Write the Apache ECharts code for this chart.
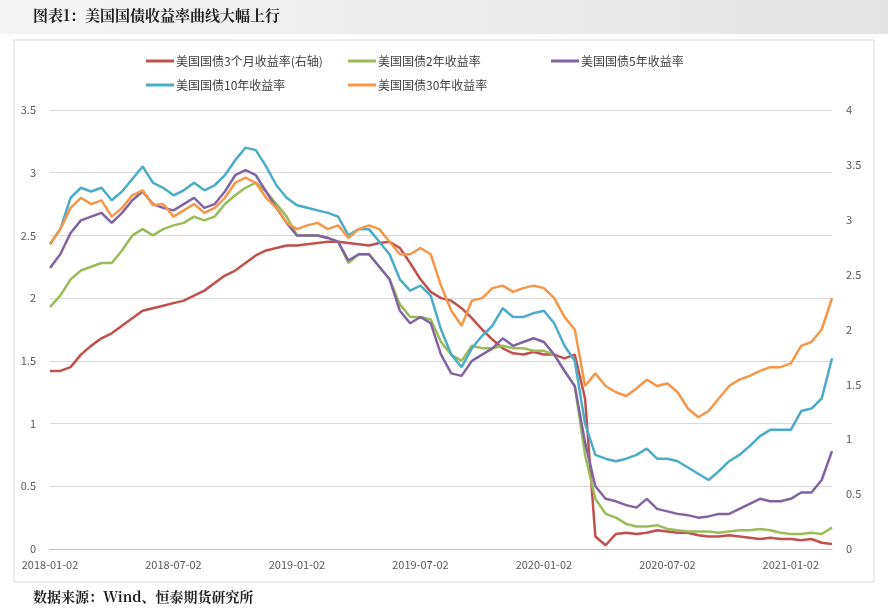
<!DOCTYPE html>
<html><head><meta charset="utf-8">
<script src="https://cdn.jsdelivr.net/npm/echarts@6/dist/echarts.min.js"></script>
<style>html,body{margin:0;padding:0;background:#fff}#c{width:888px;height:614px}</style>
</head><body><div id="c"></div>
<script>
const dates = ["2018-01-02","2018-01-16","2018-02-02","2018-02-16","2018-03-02","2018-03-16","2018-04-02","2018-04-16","2018-05-02","2018-05-16","2018-06-02","2018-06-16",
"2018-07-02","2018-07-16","2018-08-02","2018-08-16","2018-09-02","2018-09-16","2018-10-02","2018-10-16","2018-11-02","2018-11-16","2018-12-02","2018-12-16",
"2019-01-02","2019-01-16","2019-02-02","2019-02-16","2019-03-02","2019-03-16","2019-04-02","2019-04-16","2019-05-02","2019-05-16","2019-06-02","2019-06-16",
"2019-07-02","2019-07-16","2019-08-02","2019-08-16","2019-09-02","2019-09-16","2019-10-02","2019-10-16","2019-11-02","2019-11-16","2019-12-02","2019-12-16",
"2020-01-02","2020-01-16","2020-02-02","2020-02-16","2020-03-02","2020-03-16","2020-04-02","2020-04-16","2020-05-02","2020-05-16","2020-06-02","2020-06-16",
"2020-07-02","2020-07-16","2020-08-02","2020-08-16","2020-09-02","2020-09-16","2020-10-02","2020-10-16","2020-11-02","2020-11-16","2020-12-02","2020-12-16",
"2021-01-02","2021-01-16","2021-02-02","2021-02-16","2021-03-02"];
const tickLabels = ["2018-01-02","2018-07-02","2019-01-02","2019-07-02","2020-01-02","2020-07-02","2021-01-02"];
const names = ["美国国债3个月收益率(右轴)","美国国债2年收益率","美国国债5年收益率","美国国债10年收益率","美国国债30年收益率"];
const colors = ["#C0504D","#9BBB59","#8064A2","#4BACC6","#F79646"];
const y3m = [1.42,1.42,1.45,1.55,1.62,1.68,1.72,1.78,1.84,1.90,1.92,1.94,1.96,
1.98,2.02,2.06,2.12,2.18,2.22,2.28,2.34,2.38,2.40,2.42,2.42,
2.43,2.44,2.45,2.45,2.44,2.43,2.42,2.44,2.45,2.40,2.28,2.15,
2.05,2.00,1.98,1.92,1.84,1.75,1.67,1.60,1.56,1.55,1.57,1.55,
1.55,1.52,1.55,1.20,0.10,0.03,0.12,0.13,0.12,0.13,0.15,0.14,
0.13,0.13,0.11,0.10,0.10,0.11,0.10,0.09,0.08,0.09,0.08,0.08,0.07,0.08,0.05,0.04];
const y2 = [1.93,2.02,2.15,2.22,2.25,2.28,2.28,2.38,2.50,2.55,2.50,2.55,2.58,
2.60,2.65,2.62,2.65,2.75,2.82,2.88,2.92,2.85,2.75,2.65,2.50,
2.50,2.50,2.48,2.45,2.28,2.35,2.35,2.25,2.15,1.95,1.85,1.85,
1.83,1.65,1.55,1.50,1.62,1.60,1.60,1.62,1.60,1.60,1.58,1.58,
1.55,1.42,1.30,0.75,0.40,0.28,0.25,0.20,0.18,0.18,0.19,0.16,
0.15,0.14,0.14,0.14,0.13,0.14,0.15,0.15,0.16,0.15,0.13,0.12,0.12,0.13,0.12,0.17];
const y5 = [2.24,2.35,2.52,2.62,2.65,2.68,2.60,2.68,2.78,2.85,2.75,2.72,2.70,
2.75,2.80,2.72,2.75,2.85,2.98,3.02,2.98,2.85,2.72,2.60,2.50,
2.50,2.50,2.48,2.45,2.30,2.35,2.35,2.25,2.15,1.90,1.80,1.85,
1.80,1.55,1.40,1.38,1.50,1.55,1.60,1.68,1.62,1.65,1.68,1.65,
1.55,1.42,1.30,0.85,0.50,0.40,0.38,0.35,0.33,0.40,0.32,0.30,
0.28,0.27,0.25,0.26,0.28,0.28,0.32,0.36,0.40,0.38,0.38,0.40,0.45,0.45,0.55,0.78];
const y10 = [2.43,2.55,2.80,2.88,2.85,2.88,2.78,2.85,2.95,3.05,2.92,2.88,2.82,
2.86,2.92,2.86,2.90,2.98,3.10,3.20,3.18,3.05,2.90,2.80,2.74,
2.72,2.70,2.68,2.65,2.50,2.55,2.55,2.45,2.35,2.15,2.06,2.10,
2.02,1.75,1.55,1.45,1.60,1.70,1.78,1.92,1.85,1.85,1.88,1.90,
1.80,1.62,1.50,1.00,0.75,0.72,0.70,0.72,0.75,0.80,0.72,0.72,
0.70,0.65,0.60,0.55,0.62,0.70,0.75,0.82,0.90,0.95,0.95,0.95,1.10,1.12,1.20,1.52];
const y30 = [2.43,2.55,2.72,2.80,2.75,2.78,2.65,2.72,2.82,2.86,2.74,2.75,2.65,
2.70,2.75,2.68,2.72,2.80,2.92,2.96,2.92,2.80,2.72,2.60,2.55,
2.58,2.60,2.55,2.58,2.48,2.55,2.58,2.55,2.45,2.35,2.35,2.40,
2.35,2.10,1.90,1.78,1.98,2.00,2.08,2.10,2.05,2.08,2.10,2.08,
2.00,1.85,1.75,1.30,1.40,1.30,1.25,1.22,1.28,1.35,1.30,1.32,
1.25,1.12,1.05,1.10,1.20,1.30,1.35,1.38,1.42,1.45,1.45,1.48,1.62,1.65,1.75,2.00];
const leftTicks = [0,0.5,1,1.5,2,2.5,3,3.5];
const rightTicks = [0,0.5,1,1.5,2,2.5,3,3.5,4];
const allData = [y3m,y2,y5,y10,y30];
const legendPos = [[141,50],[343,50],[546,50],[141,74],[343,74]];
const font = "'Noto Sans CJK SC', sans-serif";
const chart = echarts.init(document.getElementById('c'));
chart.setOption({
  animation:false,
  graphic:[
    {type:'rect',shape:{x:0,y:0,width:888,height:34},style:{fill:{type:'linear',x:0,y:0,x2:1,y2:0,colorStops:[{offset:0,color:'#f4f4f4'},{offset:1,color:'#e4e4e4'}]}},silent:true},
    {type:'rect',shape:{x:14,y:40,width:860,height:542},style:{fill:'none',stroke:'#d9d9d9',lineWidth:1},silent:true},
    {type:'text',left:33,top:8,style:{text:'图表1：美国国债收益率曲线大幅上行',font:"bold 15px 'Noto Serif CJK SC','Noto Sans CJK SC',serif",fill:'#1f1f1f'}},
    {type:'text',left:33,top:590,style:{text:'数据来源：Wind、恒泰期货研究所',font:"bold 14px 'Noto Serif CJK SC','Noto Sans CJK SC',serif",fill:'#1f1f1f'}}
  ],
  legend: names.map((n,i)=>({data:[n],left:legendPos[i][0],top:legendPos[i][1],icon:'rect',itemWidth:28,itemHeight:3,itemGap:2,
    textStyle:{fontSize:12,color:'#404040',fontFamily:font,padding:[0,0,0,-3]}})),
  grid:{left:50,right:56,top:110,bottom:65},
  xAxis:{type:'category',data:dates,boundaryGap:false,
    axisLine:{lineStyle:{color:'#bfbfbf'}},axisTick:{show:false},
    axisLabel:{interval:(i,v)=>tickLabels.includes(v),color:'#595959',fontSize:11,fontFamily:font,margin:10}},
  yAxis:[
    {type:'value',min:0,max:3.5,interval:0.5,axisLine:{show:false},axisTick:{show:false},
      axisLabel:{color:'#595959',fontSize:11,fontFamily:font,margin:14,formatter:v=>leftTicks.includes(v)?String(v):''},
      splitLine:{lineStyle:{color:'#d9d9d9'}}},
    {type:'value',min:0,max:4,interval:0.5,axisLine:{show:false},axisTick:{show:false},
      axisLabel:{color:'#595959',fontSize:11,fontFamily:font,margin:14,formatter:v=>rightTicks.includes(v)?String(v):''},
      splitLine:{show:false}}
  ],
  series: names.map((n,i)=>({name:n,type:'line',data:allData[i],yAxisIndex:0,showSymbol:false,
    lineStyle:{width:2.5,color:colors[i]},itemStyle:{color:colors[i]}}))
});
</script></body></html>
